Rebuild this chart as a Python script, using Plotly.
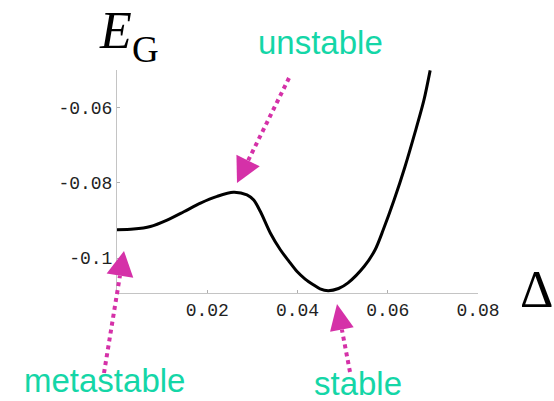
import plotly.graph_objects as go
import math

# Curve values
delta = [0.0000, 0.00365, 0.0074, 0.0111, 0.0148, 0.0185, 0.0222, 0.0258, 0.0288, 0.0303,
         0.0318, 0.0340, 0.0362, 0.0380, 0.0399, 0.0417, 0.0435, 0.0450, 0.0468, 0.0491,
         0.0512, 0.0548, 0.0572, 0.0590, 0.0614, 0.0638, 0.0660, 0.0680, 0.0694]
energy = [-0.0925, -0.0923, -0.0916, -0.0899, -0.0877, -0.0854, -0.0836, -0.0825, -0.0832, -0.0846,
          -0.0877, -0.0934, -0.0978, -0.1007, -0.1036, -0.1056, -0.1071, -0.1082, -0.1087, -0.1081,
          -0.1066, -0.1022, -0.0978, -0.0925, -0.0846, -0.0758, -0.0668, -0.0581, -0.0501]

x_tickvals = [0.02, 0.04, 0.06, 0.08]
x_ticktext = ["0.02", "0.04", "0.06", "0.08"]
y_tickvals = [-0.06, -0.08, -0.1]
y_ticktext = ["-0.06", "-0.08", "-0.1"]

labels = ["unstable", "metastable", "stable"]

W, H = 554, 401
L, R, T, B = 117, 76, 70, 108
PW, PH = W - L - R, H - T - B

def px(x, y):
    return (x - L) / PW, (H - B - y) / PH

MAG = "#D531A8"
TEAL = "#14D6A7"

fig = go.Figure()
fig.add_trace(go.Scatter(x=delta, y=energy, mode="lines",
                         line=dict(color="black", width=3, shape="spline", smoothing=0.8),
                         hoverinfo="skip", showlegend=False))

shapes = []
def arrow(start, tip, hl, hw):
    dx, dy = tip[0] - start[0], tip[1] - start[1]
    n = math.hypot(dx, dy)
    ux, uy = dx / n, dy / n
    bx, by = tip[0] - ux * hl, tip[1] - uy * hl
    x0, y0 = px(*start)
    x1, y1 = px(bx, by)
    shapes.append(dict(type="line", xref="paper", yref="paper", x0=x0, y0=y0, x1=x1, y1=y1,
                       line=dict(color=MAG, width=4, dash="4px,4px")))
    pxn, pyn = -uy, ux
    p1 = px(bx + pxn * hw / 2, by + pyn * hw / 2)
    p2 = px(bx - pxn * hw / 2, by - pyn * hw / 2)
    p0 = px(*tip)
    path = f"M {p0[0]},{p0[1]} L {p1[0]},{p1[1]} L {p2[0]},{p2[1]} Z"
    shapes.append(dict(type="path", xref="paper", yref="paper", path=path,
                       fillcolor=MAG, line=dict(color=MAG, width=0)))

arrow((289, 78), (237, 183), 25, 26)
arrow((104, 373), (124, 251), 25, 27)
arrow((350, 372), (337, 304), 26, 24)

annotations = []
def text(t, x, y, size, color, family, xa="center", ya="middle"):
    xp, yp = px(x, y)
    annotations.append(dict(text=t, x=xp, y=yp, xref="paper", yref="paper", showarrow=False,
                            xanchor=xa, yanchor=ya, font=dict(size=size, color=color, family=family)))

text(labels[0], 320, 42, 33, TEAL, "Liberation Sans")
text(labels[1], 104, 380, 33, TEAL, "Liberation Sans")
text(labels[2], 358, 383, 33, TEAL, "Liberation Sans")
text("<i>E</i>", 115, 31, 52, "black", "Liberation Serif")
text("G", 145, 50, 37, "black", "Liberation Serif")
text("Δ", 536, 289, 52, "black", "Liberation Serif")

fig.update_layout(
    width=W, height=H, margin=dict(l=L, r=R, t=T, b=B),
    paper_bgcolor="white", plot_bgcolor="white",
    shapes=shapes, annotations=annotations,
    xaxis=dict(range=[0, 0.08], showgrid=False, zeroline=False, showline=True, linecolor="#c4c4c4",
               linewidth=1, ticks="inside", ticklen=3, tickcolor="#b0b0b0",
               tickvals=x_tickvals, ticktext=x_ticktext,
               tickfont=dict(family="Liberation Mono", size=18, color="#222")),
    yaxis=dict(range=[-0.1093, -0.05], showgrid=False, zeroline=False, showline=True, linecolor="#c4c4c4",
               linewidth=1, ticks="inside", ticklen=3, tickcolor="#b0b0b0",
               tickvals=y_tickvals, ticktext=y_ticktext,
               tickfont=dict(family="Liberation Mono", size=18, color="#222")),
)
fig.write_html("out.html", config={"displayModeBar": False},
               post_script="document.body.style.margin='0';")
